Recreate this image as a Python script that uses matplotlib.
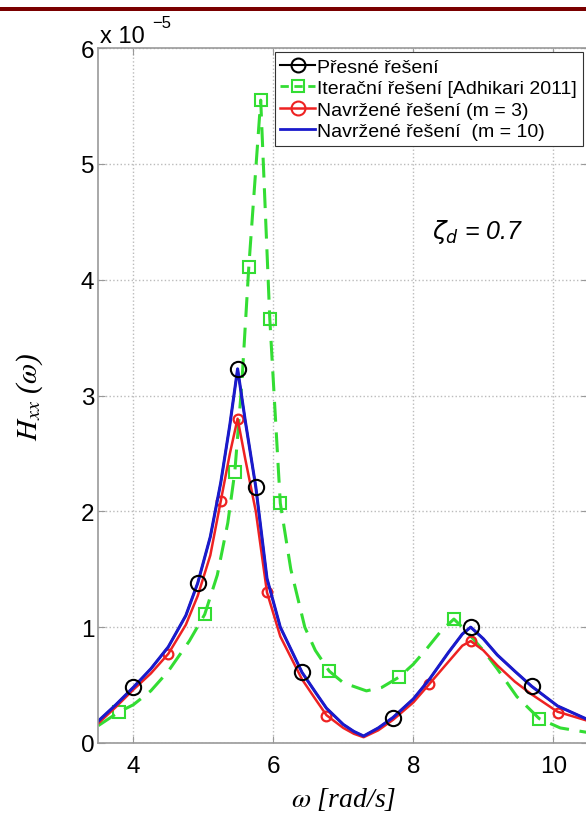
import numpy as np
import matplotlib
matplotlib.use('Agg')
import matplotlib.pyplot as plt
from matplotlib.lines import Line2D
from matplotlib.patches import Rectangle

# Values (y in units of 1e-5)
# Navrzene reseni (m = 10) - blue line, exact solution lies under it
blue_x = [3.5, 3.75, 4.0, 4.25, 4.5, 4.75, 4.92, 5.1, 5.25, 5.38, 5.49, 5.6, 5.75, 5.91,
          6.1, 6.41, 6.6, 6.76, 7.0, 7.15, 7.29, 7.5, 7.71, 8.0, 8.23, 8.5, 8.7, 8.82,
          9.0, 9.2, 9.45, 9.69, 10.06, 10.5]
blue_y = [0.19, 0.33, 0.48, 0.64, 0.83, 1.10, 1.38, 1.78, 2.25, 2.75, 3.23, 2.78, 2.21, 1.42,
          1.00, 0.61, 0.44, 0.30, 0.16, 0.10, 0.06, 0.13, 0.22, 0.38, 0.55, 0.78, 0.94, 1.00,
          0.90, 0.76, 0.62, 0.49, 0.32, 0.20]

# Navrzene reseni (m = 3) - red
red_x = blue_x
red_y = [0.17, 0.31, 0.46, 0.60, 0.77, 1.02, 1.27, 1.62, 2.09, 2.50, 2.80, 2.45, 2.00, 1.30,
         0.92, 0.55, 0.38, 0.24, 0.13, 0.08, 0.05, 0.11, 0.20, 0.35, 0.51, 0.70, 0.84, 0.88,
         0.80, 0.67, 0.53, 0.42, 0.27, 0.19]

# Iteracni reseni [Adhikari 2011] - green dashed
green_x = [3.5, 3.8, 4.0, 4.25, 4.5, 4.8, 5.02, 5.2, 5.35, 5.45, 5.55, 5.65, 5.82, 5.95,
           6.1, 6.25, 6.45, 6.6, 6.8, 7.0, 7.33, 7.55, 7.8, 8.0, 8.2, 8.4, 8.58, 8.75,
           9.0, 9.2, 9.48, 9.8, 10.1, 10.5]
green_y = [0.15, 0.27, 0.33, 0.45, 0.62, 0.88, 1.11, 1.45, 1.90, 2.34, 3.10, 4.11, 5.55, 3.66,
           2.07, 1.50, 1.00, 0.80, 0.62, 0.52, 0.45, 0.48, 0.57, 0.68, 0.82, 0.97, 1.07, 0.97,
           0.80, 0.64, 0.40, 0.21, 0.13, 0.09]

# marker positions
exact_mx = [4.0, 4.92, 5.49, 5.75, 6.41, 7.71, 8.82, 9.69]
exact_my = [0.48, 1.38, 3.23, 2.21, 0.61, 0.22, 1.00, 0.49]
red_mx = [4.5, 5.25, 5.49, 5.91, 6.76, 8.23, 8.82, 10.06]
red_my = [0.77, 2.09, 2.80, 1.30, 0.235, 0.51, 0.88, 0.26]
green_mx = [3.8, 5.02, 5.45, 5.65, 5.82, 5.95, 6.10, 6.80, 7.80, 8.58, 9.80]
green_my = [0.27, 1.11, 2.34, 4.11, 5.55, 3.66, 2.07, 0.62, 0.57, 1.07, 0.21]

labels = ['Přesné řešení', 'Iterační řešení [Adhikari 2011]',
          'Navržené řešení (m = 3)', 'Navržené řešení  (m = 10)']
x_ticks = [4, 6, 8, 10]
y_ticks = [0, 1, 2, 3, 4, 5, 6]

W, H = 586, 820
fig = plt.figure(figsize=(W / 100, H / 100), dpi=100)

# axes box in pixels: left 98, right 588 (cut off), top 49, bottom 744
ax = fig.add_axes([98.3 / W, (H - 744) / H, 490 / W, 695 / H])

green = '#33dd33'
ax.plot(green_x, green_y, color=green, lw=2.2, ls=(0, (6.5, 3.5)))
ax.plot(green_mx, green_my, ls='none', marker='s', ms=8.5, mfc='none', mec=green, mew=1.5)
ax.plot(blue_x, blue_y, color='black', lw=1.5)
ax.plot(red_x, red_y, color='#ee2222', lw=1.8)
ax.plot(red_mx, red_my, ls='none', marker='o', ms=7, mfc='none', mec='#ee2222', mew=1.6)
ax.plot(blue_x, blue_y, color='#1a1acc', lw=2.2)
ax.plot(exact_mx, exact_my, ls='none', marker='o', ms=11, mfc='none', mec='black', mew=1.5)

ax.set_xlim(3.5, 10.5)
ax.set_ylim(0, 6)
ax.set_xticks(x_ticks)
ax.set_yticks(y_ticks)
ax.tick_params(direction='in', top=True, right=True, length=5, color='#999999',
               labelsize=17.5)
ax.tick_params(axis='x', pad=9)
ax.tick_params(axis='y', pad=3)
for lab in ax.get_xticklabels() + ax.get_yticklabels():
    lab.set_family('Liberation Sans')
for s in ax.spines.values():
    s.set_color('#999999')
    s.set_linewidth(1.2)
ax.grid(True, ls=':', color='#bbbbbb', lw=1)

ax.set_xlabel(r'$\omega$ [rad/s]', family='Liberation Serif', style='italic',
              fontsize=20, math_fontfamily='stix')
ax.xaxis.set_label_coords(0.5, -0.06)
ax.set_ylabel(r'$H_{xx}$ ($\omega$)', family='Liberation Serif', style='italic',
              fontsize=21, math_fontfamily='stix')
ax.yaxis.set_label_coords(-0.108, 0.5)

fig.text(432 / W, 1 - 232 / H, r'$\zeta_d$ = 0.7', fontsize=18, style='italic',
         family='Liberation Sans', math_fontfamily='dejavusans', va='center')

# legend with proxy handles
handles = [
    Line2D([], [], color='black', lw=1.5, marker='o', ms=10, mfc='none', mew=1.5),
    Line2D([], [], color=green, lw=2, ls=(0, (3, 2)), marker='s', ms=8, mfc='none', mew=1.5),
    Line2D([], [], color='#ee2222', lw=1.8, marker='o', ms=10, mfc='none', mew=1.5),
    Line2D([], [], color='#1a1acc', lw=2),
]
leg = ax.legend(handles, labels, loc='upper right', bbox_to_anchor=(0.989, 0.994),
                borderaxespad=0, fancybox=False, framealpha=1, edgecolor='#333333',
                prop={'family': 'Liberation Sans', 'size': 14}, handlelength=1.8,
                handletextpad=0.1, labelspacing=0.2, borderpad=0.3)
leg.get_frame().set_linewidth(0.8)

# exponent text above the axis
fig.text(100 / W, 1 - 43 / H, 'x 10', fontsize=17, family='Liberation Sans', va='baseline')
fig.text(152 / W, 1 - 28 / H, '\u22125', fontsize=12, family='Liberation Sans', va='baseline')

# dark red rule along the top
fig.add_artist(Rectangle((0, 1 - 12 / H), 1, 4 / H, transform=fig.transFigure,
                         color='#7a0000', lw=0))

fig.savefig('out.png', dpi=100)
